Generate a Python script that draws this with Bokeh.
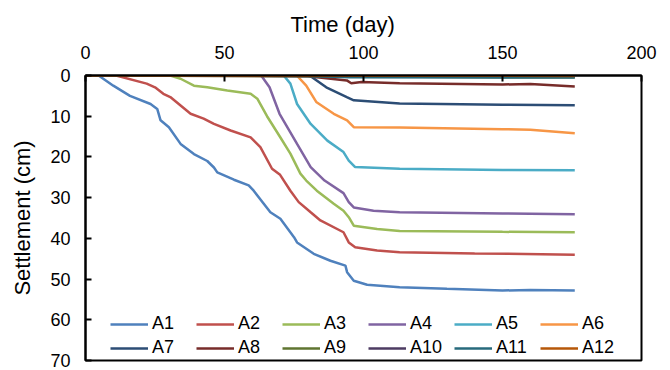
from bokeh.plotting import figure
from bokeh.models import Range1d, FixedTicker, Legend, LegendItem, Title
from bokeh.embed import file_html
from bokeh.resources import INLINE

series_names = ["A1", "A2", "A3", "A4", "A5", "A6", "A7", "A8", "A9", "A10", "A11", "A12"]
series_colors = ["#4F81BD", "#C0504D", "#9BBB59", "#8064A2", "#4BACC6", "#F79646",
                 "#2C4D75", "#772C2A", "#5F7530", "#4D3B62", "#276A7C", "#B65708"]

days_A1 = [0, 4.7, 10, 16, 23.4, 25.8, 27, 30, 34.2, 39, 43.8, 46.2, 47.4, 53.4, 58.7, 60.5,
           66.5, 70.1, 75, 76.1, 82.1, 88.1, 93.5, 94.1, 96.5, 101.3, 113, 130, 150, 160, 176]
set_A1 = [0, 0, 2.5, 5, 7, 8.2, 11, 12.7, 16.8, 19.3, 21, 22.6, 23.8, 25.6, 27, 28.3,
          33.6, 35.2, 39.7, 41, 43.8, 45.5, 46.7, 48.3, 50.4, 51.4, 52, 52.4, 52.8, 52.7, 52.8]

days_A2 = [0, 11, 22, 25, 28, 30.5, 37.8, 42.5, 46.2, 52.2, 59.4, 62.9, 67.1, 70, 73.7, 76.7,
           81, 84.5, 92.8, 94.7, 97, 104.9, 113, 140, 176]
set_A2 = [0, 0, 2, 2.9, 4.5, 5.3, 9.4, 10.6, 11.9, 13.5, 15.2, 17.6, 22.9, 24.4, 28.3, 31.1,
          33.6, 35.6, 38.5, 41, 42.2, 43, 43.4, 43.7, 44]

days_A3 = [0, 30.5, 34.2, 39, 43.8, 51, 59.4, 61.8, 65.3, 70, 73.7, 77.3, 79.4, 83.2, 89.3,
           92.8, 94.7, 96.5, 104.9, 113, 150, 176]
set_A3 = [0, 0, 0.8, 2.5, 2.9, 3.7, 4.5, 5.7, 10, 15.1, 19.2, 24.1, 25.8, 28.3, 31.5,
          33.2, 34.8, 36.9, 37.7, 38.2, 38.4, 38.5]

days_A4 = [0, 63.2, 66.2, 69.8, 76.1, 81, 86, 92.8, 94.7, 96.5, 103.6, 113, 150, 176]
set_A4 = [0, 0, 2.9, 9.4, 16.8, 22.5, 25.8, 28.9, 31.1, 32.4, 33.2, 33.6, 33.9, 34.1]

days_A5 = [0, 71.3, 73.7, 76.1, 81, 87, 92.8, 94.7, 97, 113, 150, 176]
set_A5 = [0, 0, 2, 7, 11.9, 16, 18.8, 20.9, 22.5, 22.9, 23.2, 23.3]

days_A6 = [0, 76, 79.4, 83, 89.3, 94.1, 96.5, 113, 150, 160, 176]
set_A6 = [0, 0, 2.5, 6.5, 9.4, 11, 12.7, 12.8, 13.2, 13.3, 14.2]

days_A7 = [0, 80.6, 86.6, 94, 96.5, 113, 150, 176]
set_A7 = [0, 0, 2.9, 5.3, 6.1, 6.9, 7.2, 7.3]

days_A8 = [0, 80, 94, 95.6, 99.3, 113, 150, 160, 176]
set_A8 = [0, 0.2, 1.2, 1.9, 1.6, 1.9, 2.2, 2.1, 2.7]

days_A9 = [0, 90, 120, 150, 176]
set_A9 = [0, 0.2, 0.3, 0.4, 0.4]

days_A10 = [0, 90, 176]
set_A10 = [0, 0.1, 0.2]

days_A11 = [0, 80, 95, 150, 176]
set_A11 = [0, 0.1, 0.4, 0.5, 0.5]

days_A12 = [0, 176]
set_A12 = [0, 0.1]

all_days = [days_A1, days_A2, days_A3, days_A4, days_A5, days_A6,
            days_A7, days_A8, days_A9, days_A10, days_A11, days_A12]
all_sets = [set_A1, set_A2, set_A3, set_A4, set_A5, set_A6,
            set_A7, set_A8, set_A9, set_A10, set_A11, set_A12]

x_ticks = [0, 50, 100, 150, 200]
y_ticks = [0, 10, 20, 30, 40, 50, 60, 70]

FONT = "Liberation Sans"

p = figure(width=670, height=370, output_backend="svg", toolbar_location=None,
           x_range=Range1d(0, 200), y_range=Range1d(70, 0),
           x_axis_location="above",
           min_border_left=85, min_border_right=29, min_border_top=75, min_border_bottom=10)
p.background_fill_color = "white"
p.border_fill_color = "white"
p.outline_line_color = "black"
p.outline_line_width = 2
p.xgrid.visible = False
p.ygrid.visible = False

p.xaxis.ticker = FixedTicker(ticks=x_ticks)
p.yaxis.ticker = FixedTicker(ticks=y_ticks)
for ax in (p.xaxis[0], p.yaxis[0]):
    ax.axis_line_color = "black"
    ax.axis_line_width = 2
    ax.major_tick_in = 6
    ax.major_tick_out = 0
    ax.major_tick_line_color = "black"
    ax.major_tick_line_width = 2
    ax.minor_tick_line_color = None
    ax.major_label_text_font = FONT
    ax.major_label_text_font_size = "18px"
    ax.major_label_text_color = "black"
    ax.axis_label_text_font = FONT
    ax.axis_label_text_font_size = "22px"
    ax.axis_label_text_font_style = "normal"
    ax.axis_label_text_color = "black"

p.yaxis.axis_label = "Settlement (cm)"
p.xaxis.major_label_standoff = 17
p.yaxis.major_label_standoff = 15
p.yaxis.axis_label_standoff = 12

xtitle = Title(text="Time (day)", align="left", offset=205,
               text_font=FONT, text_font_size="22px", text_font_style="normal",
               text_color="black", standoff=12)
p.add_layout(xtitle, "above")

renderers = []
for d, s, c in zip(all_days, all_sets, series_colors):
    r = p.line(d, s, line_color=c, line_width=2.5)
    renderers.append(r)

def make_legend(names, rends, loc):
    lg = Legend(items=[LegendItem(label=n, renderers=[r]) for n, r in zip(names, rends)],
                orientation="horizontal", location=loc)
    lg.glyph_width = 38
    lg.glyph_height = 16
    lg.label_height = 16
    lg.label_standoff = 4
    lg.label_width = 40
    lg.spacing = 4
    lg.padding = 0
    lg.margin = 0
    lg.border_line_color = None
    lg.background_fill_alpha = 0
    lg.label_text_font = FONT
    lg.label_text_font_size = "18px"
    lg.label_text_color = "black"
    return lg

p.add_layout(make_legend(series_names[:6], renderers[:6], (25, 26)))
p.add_layout(make_legend(series_names[6:], renderers[6:], (25, 2)))

open("out.html", "w").write(file_html(p, INLINE))
